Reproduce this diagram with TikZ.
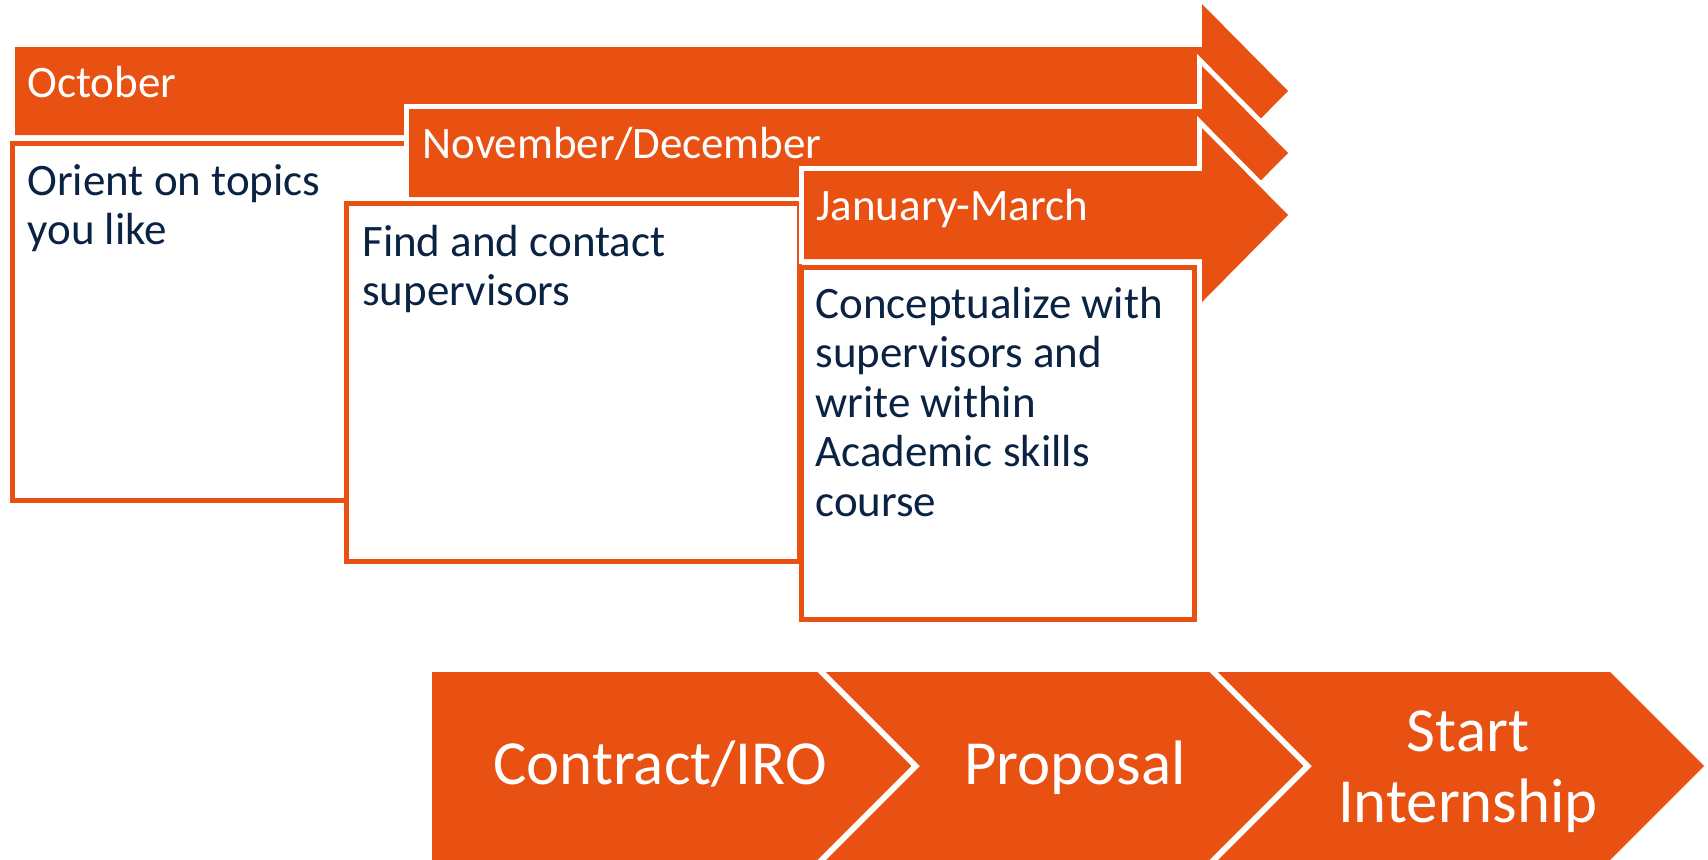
\documentclass[tikz,border=0pt]{standalone}
\usepackage{fontspec}
\setmainfont{Carlito}
\definecolor{orng}{HTML}{E85112}
\definecolor{navy}{HTML}{0B2342}
\newcommand\twolinecentred[2]{\vtop{\halign{\hfil##\hfil\cr#1\cr#2\cr}}}
\begin{document}
\begin{tikzpicture}[x=0.5pt,y=-0.5pt,
  arrowshape/.style={fill=orng, preaction={draw=white, line width=5pt}},
  chevshape/.style={fill=orng, preaction={draw=white, line width=6pt}},
  textbox/.style={draw=orng, fill=white, line width=2.5pt},
  month/.style={text=white, inner sep=0pt, anchor=base west,
    font=\fontsize{22.5pt}{24.75pt}\selectfont},
  body/.style={text=navy, inner sep=0pt, anchor=base west,
    font=\fontsize{22.5pt}{24.75pt}\selectfont},
  chevtext/.style={text=white, inner sep=0pt, anchor=base,
    font=\fontsize{31.4pt}{35.5pt}\selectfont}]
\useasboundingbox (0,0) rectangle (1708,859);

% October arrow and box
\path[arrowshape] (15,47) -- (1202,47) -- (1202,4) -- (1288,91) -- (1202,178)
  -- (1202,135) -- (15,135) -- cycle;
\path[textbox] (12.5,143.5) rectangle (500,500.5);

% November/December arrow and box
\path[arrowshape] (409,109) -- (1202,109) -- (1202,66) -- (1288,153) -- (1202,240)
  -- (1202,197) -- (409,197) -- cycle;
\path[textbox] (346,203) rectangle (799.5,561);

% January-March arrow and box
\path[arrowshape] (804,171) -- (1202,171) -- (1202,128) -- (1288,215) -- (1202,302)
  -- (1202,259) -- (804,259) -- cycle;
\path[textbox] (801.5,267) rectangle (1194.5,619.5);

% texts of the timeline
\node[month] (oct) at (27,97) {October};
\node[month] (nov) at (422,158) {November/December};
\node[month] (jan) at (816,220) {January-March};
\node[body] (t1) at (27,195) {\vtop{\hbox{Orient on topics}\hbox{you like}}};
\node[body] (t2) at (362,256) {\vtop{\hbox{Find and contact}\hbox{supervisors}}};
\node[body] (t3) at (815,318) {\vtop{\hbox{Conceptualize with}\hbox{supervisors and}%
  \hbox{write within}\hbox{Academic skills}\hbox{course}}};

% chevron process
\path[chevshape] (432,672) -- (826,672) -- (920,766) -- (826,860) -- (432,860) -- cycle;
\path[chevshape] (826,672) -- (1218,672) -- (1312,766) -- (1218,860) -- (826,860)
  -- (920,766) -- cycle;
\path[chevshape] (1218,672) -- (1610,672) -- (1704,766) -- (1610,860) -- (1218,860)
  -- (1312,766) -- cycle;
\node[chevtext] (c1) at (660,784) {Contract/IRO};
\node[chevtext] (c2) at (1075,784) {Proposal};
\node[chevtext] (c3) at (1468,751) {\twolinecentred{Start}{Internship}};
\end{tikzpicture}
\end{document}
